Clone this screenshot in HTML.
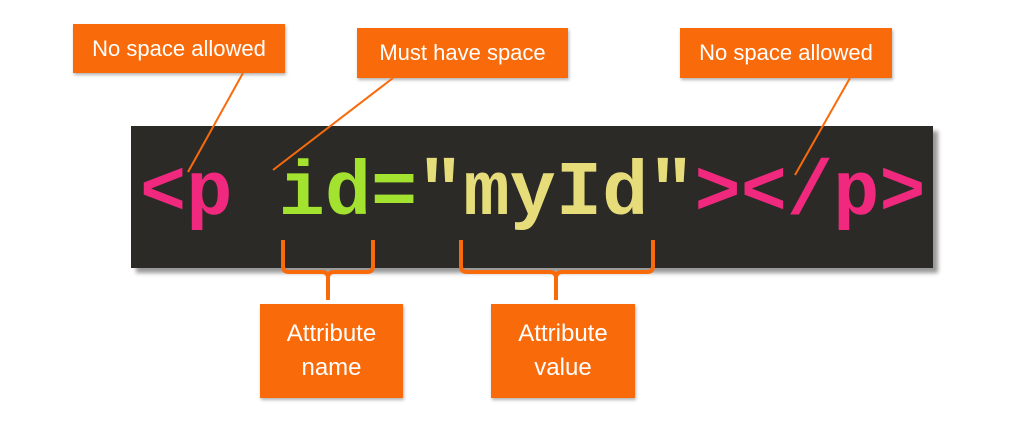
<!DOCTYPE html>
<html><head><style>
body{margin:0;width:1024px;height:430px;background:#fff;position:relative;overflow:hidden;font-family:"Liberation Sans",sans-serif}
.b{position:absolute;background:#f96b0a;color:#fff;font-size:22px;display:flex;align-items:center;justify-content:center;text-align:center;box-shadow:1px 2px 3px rgba(0,0,0,.3);line-height:34px}
#code{position:absolute;left:131px;top:126px;width:802px;height:142px;background:#2b2a27;box-shadow:5px 5px 4px #999}
#txt{position:absolute;left:140px;top:150px;font-family:"Liberation Mono",monospace;font-weight:bold;font-size:77px;line-height:90px;white-space:pre;color:#f0297e}
svg{position:absolute;left:0;top:0}
</style></head><body>
<div id="code"></div>
<div id="txt">&lt;p <span style="color:#a3e22e">id=</span><span style="color:#e6dd7a">"myId"</span>&gt;&lt;/p&gt;</div>
<div class="b" style="left:73px;top:24px;width:212px;height:49px">No space allowed</div>
<div class="b" style="left:357px;top:28px;width:211px;height:50px">Must have space</div>
<div class="b" style="left:680px;top:28px;width:212px;height:50px">No space allowed</div>
<div class="b" style="left:260px;top:304px;width:143px;height:94px;font-size:24px">Attribute<br>name</div>
<div class="b" style="left:491px;top:304px;width:144px;height:94px;font-size:24px">Attribute<br>value</div>
<svg width="1024" height="430" fill="none" stroke="#f96b0a">
<g stroke-width="2"><line x1="243" y1="73" x2="188" y2="172"/><line x1="393" y1="78" x2="273" y2="170"/><line x1="850" y1="78" x2="795" y2="175"/></g>
<g stroke-width="4" stroke-linejoin="round">
<path d="M283 240 V266 Q283 272 289 272 H322 Q328 272 328 278 V300 M328 278 Q328 272 334 272 H367 Q373 272 373 266 V240"/>
<path d="M461 240 V266 Q461 272 467 272 H550 Q556 272 556 278 V300 M556 278 Q556 272 562 272 H647 Q653 272 653 266 V240"/>
</g></svg>
</body></html>
